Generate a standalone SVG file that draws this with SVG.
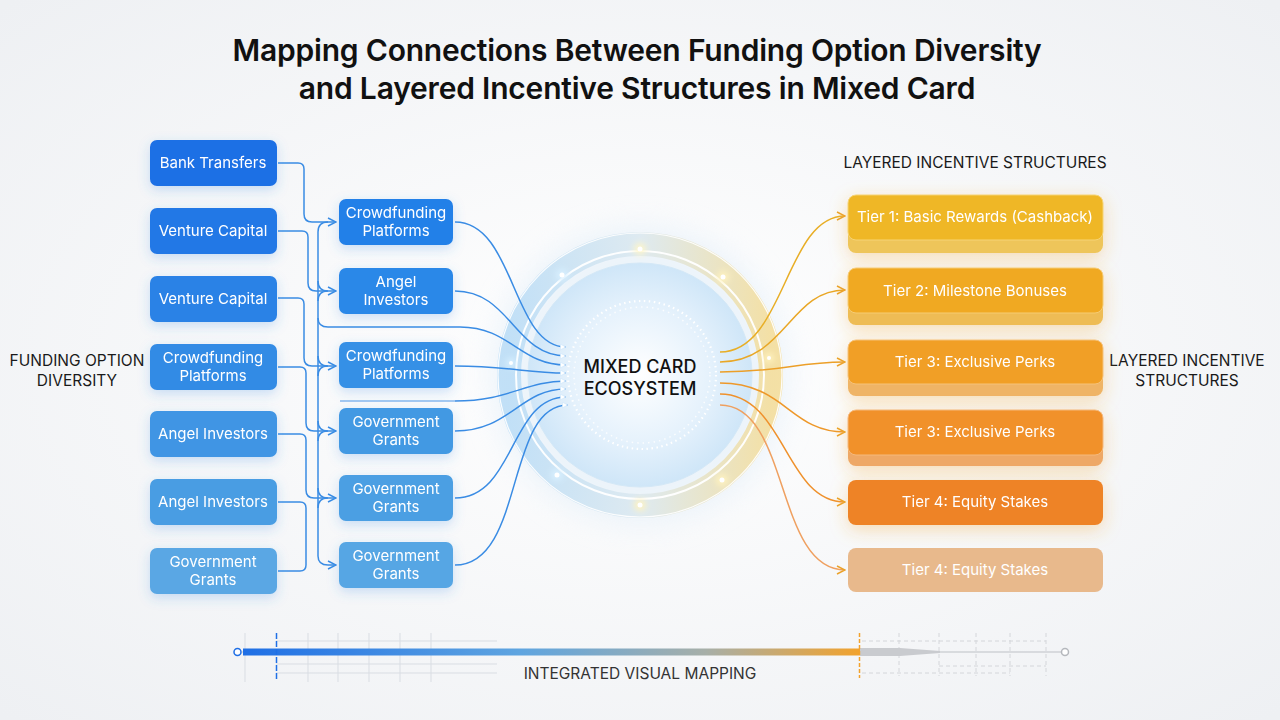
<svg xmlns="http://www.w3.org/2000/svg" width="1280" height="720" viewBox="0 0 1280 720">
<defs>
<style>
.t{font-family:Inter,"Liberation Sans",sans-serif;}
.title{font-family:Inter,"Liberation Sans",sans-serif;font-size:30px;font-weight:600;fill:#111;text-anchor:middle;letter-spacing:-0.2px;}
.lbl{font-family:Inter,"Liberation Sans",sans-serif;font-size:15.5px;fill:#1a1a1a;text-anchor:middle;}
.nt{font-family:Inter,"Liberation Sans",sans-serif;font-size:15px;fill:#fff;text-anchor:middle;}
.bl{fill:none;stroke:#3A8CE4;stroke-width:1.5;}
.or{fill:none;stroke-width:1.5;}
.grid{stroke:#d9dde3;stroke-width:1;fill:none;}
.gd{stroke:#d4d6da;stroke-width:1;fill:none;stroke-dasharray:4 3;}
</style>
<marker id="ab" viewBox="0 0 10 10" refX="9" refY="5" markerWidth="10" markerHeight="10" markerUnits="userSpaceOnUse" orient="auto">
<path d="M1,1 L9,5 L1,9" fill="none" stroke="#3A8CE4" stroke-width="1.5"/>
</marker>
<marker id="ao" viewBox="0 0 10 10" refX="9" refY="5" markerWidth="10" markerHeight="10" markerUnits="userSpaceOnUse" orient="auto">
<path d="M1,1 L9,5 L1,9" fill="none" stroke="#EBA22A" stroke-width="1.5"/>
</marker>
<marker id="aw" viewBox="0 0 10 10" refX="9" refY="5" markerWidth="7" markerHeight="7" markerUnits="userSpaceOnUse" orient="auto">
<path d="M1,1 L9,5 L1,9 Z" fill="#fff" stroke="#cfe6fb" stroke-width="1"/>
</marker>
<filter id="sh" x="-30%" y="-40%" width="160%" height="190%">
<feDropShadow dx="0" dy="4" stdDeviation="6" flood-color="#3A8CE4" flood-opacity="0.25"/>
</filter>
<filter id="sho" x="-30%" y="-60%" width="160%" height="220%">
<feDropShadow dx="0" dy="5" stdDeviation="9" flood-color="#F2A630" flood-opacity="0.35"/>
</filter>
<filter id="blur" x="-50%" y="-50%" width="200%" height="200%"><feGaussianBlur stdDeviation="3"/></filter>
<filter id="bigblur" x="-50%" y="-50%" width="200%" height="200%"><feGaussianBlur stdDeviation="14"/></filter>
<radialGradient id="bg" cx="0.5" cy="0.5" r="0.7">
<stop offset="0" stop-color="#ffffff"/><stop offset="1" stop-color="#eef0f3"/>
</radialGradient>
<radialGradient id="core" cx="0.5" cy="0.5" r="0.5">
<stop offset="0" stop-color="#ffffff"/><stop offset="0.6" stop-color="#e6f2fc"/><stop offset="1" stop-color="#cfe6f8"/>
</radialGradient>
<linearGradient id="ring" x1="0" y1="0" x2="1" y2="0">
<stop offset="0" stop-color="#b9dcf6"/><stop offset="0.5" stop-color="#dbe8ef"/><stop offset="1" stop-color="#f4dc96"/>
</linearGradient>
<linearGradient id="bar" x1="0" y1="0" x2="1" y2="0">
<stop offset="0" stop-color="#1F6FE5"/><stop offset="0.45" stop-color="#5FA5E0"/><stop offset="0.75" stop-color="#A7AFA8"/><stop offset="1" stop-color="#F2A22C"/>
</linearGradient>
</defs>

<rect width="1280" height="720" fill="url(#bg)"/>

<g id="title">
<text class="title" x="637" y="61">Mapping Connections Between Funding Option Diversity</text>
<text class="title" x="637" y="99">and Layered Incentive Structures in Mixed Card</text>
</g>

<g id="side-labels">
<text class="lbl" x="77" y="366">FUNDING OPTION</text>
<text class="lbl" x="77" y="386">DIVERSITY</text>
<text class="lbl" x="975" y="168">LAYERED INCENTIVE STRUCTURES</text>
<text class="lbl" x="1187" y="366">LAYERED INCENTIVE</text>
<text class="lbl" x="1187" y="386">STRUCTURES</text>
</g>

<!-- hub -->
<g id="hub">
<circle cx="640" cy="375" r="150" fill="#e3eff9" opacity="0.6" filter="url(#bigblur)"/>
<circle cx="640" cy="375" r="131" fill="none" stroke="url(#ring)" stroke-width="24" opacity="0.85"/>
<circle cx="640" cy="375" r="142" fill="none" stroke="#ffffff" stroke-width="1.2" opacity="0.9"/>
<circle cx="640" cy="375" r="124" fill="none" stroke="#ffffff" stroke-width="2" opacity="0.95"/>
<circle cx="640" cy="375" r="112" fill="url(#core)"/>
<circle cx="640" cy="375" r="112" fill="none" stroke="#d4e8f7" stroke-width="1"/>
<circle cx="642" cy="375" r="74" fill="none" stroke="#ffffff" stroke-width="2.2" stroke-dasharray="1.5 3.5"/>
<circle cx="642" cy="375" r="68" fill="none" stroke="#ffffff" stroke-width="1.5" stroke-dasharray="1.5 4" opacity="0.8"/>
<g fill="#ffffff">
<circle cx="640" cy="249" r="6" fill="#fff6c8" filter="url(#blur)"/><circle cx="640" cy="249" r="2.5"/>
<circle cx="562" cy="275" r="6" fill="#d8f0ff" filter="url(#blur)"/><circle cx="562" cy="275" r="2.5"/>
<circle cx="723" cy="277" r="6" fill="#fff3c0" filter="url(#blur)"/><circle cx="723" cy="277" r="2.5"/>
<circle cx="557" cy="475" r="6" fill="#d8f0ff" filter="url(#blur)"/><circle cx="557" cy="475" r="2.5"/>
<circle cx="722" cy="480" r="6" fill="#fff3c0" filter="url(#blur)"/><circle cx="722" cy="480" r="2.5"/>
<circle cx="640" cy="505" r="6" fill="#fff3c0" filter="url(#blur)"/><circle cx="640" cy="505" r="2.5"/>
<circle cx="511" cy="363" r="5" fill="#d8f0ff" filter="url(#blur)"/><circle cx="511" cy="363" r="2"/>
<circle cx="769" cy="358" r="5" fill="#fff3c0" filter="url(#blur)"/><circle cx="769" cy="358" r="2"/>
</g>
<text class="t" x="640" y="373" font-size="18" font-weight="500" fill="#111" text-anchor="middle">MIXED CARD</text>
<text class="t" x="640" y="395" font-size="18" font-weight="500" fill="#111" text-anchor="middle">ECOSYSTEM</text>
</g>

<!-- connectors -->
<g id="connectors">
<path class="bl" d="M278,163 H298 Q304,163 304,169 V214 Q304,222 312,222 H336" marker-end="url(#ab)"/>
<path class="bl" d="M278,231 H302 Q308,231 308,237 V283 Q308,291 316,291 H336" marker-end="url(#ab)"/>
<path class="bl" d="M278,298 H298 Q304,298 304,304 V358 Q304,366 312,366 H336" marker-end="url(#ab)"/>
<path class="bl" d="M278,367 H300 Q306,367 306,373 V423 Q306,431 314,431 H336" marker-end="url(#ab)"/>
<path class="bl" d="M278,434 H300 Q306,434 306,440 V490 Q306,498 314,498 H336" marker-end="url(#ab)"/>
<path class="bl" d="M278,502 H300 Q306,502 306,508 V565 Q306,571 300,571 H278"/>
<path class="bl" d="M318,232 V556 Q318,565 328,565 H336" marker-end="url(#ab)"/>
<path class="bl" d="M318,232 Q318,222 328,222"/>
<path class="bl" d="M318,281 Q318,291 328,291 M318,301 Q318,291 328,291"/>
<path class="bl" d="M318,356 Q318,366 328,366 M318,376 Q318,366 328,366"/>
<path class="bl" d="M318,421 Q318,431 328,431 M318,441 Q318,431 328,431"/>
<path class="bl" d="M318,488 Q318,498 328,498 M318,508 Q318,498 328,498"/>
<path class="bl" d="M318,318 Q318,327 328,327 H460"/>
<path class="bl" d="M340,401 H455" opacity="0.6"/>
<path class="bl" d="M455,222 C515,222 512,347 566,347" marker-end="url(#aw)"/>
<path class="bl" d="M455,291 C510,291 515,356 566,356" marker-end="url(#aw)"/>
<path class="bl" d="M460,327 C510,327 520,365 566,365" marker-end="url(#aw)"/>
<path class="bl" d="M455,366 C510,366 525,373 566,373" marker-end="url(#aw)"/>
<path class="bl" d="M455,401 C510,401 525,381 566,381" marker-end="url(#aw)"/>
<path class="bl" d="M455,431 C510,431 520,389 566,389" marker-end="url(#aw)"/>
<path class="bl" d="M455,498 C515,498 510,397 566,397" marker-end="url(#aw)"/>
<path class="bl" d="M455,565 C525,565 505,405 568,405" marker-end="url(#aw)"/>
<path class="or" stroke="#E8AE26" d="M720,352 C785,352 785,216 845,216" marker-end="url(#ao)"/>
<path class="or" stroke="#E9A726" d="M720,362 C785,362 790,290 845,290" marker-end="url(#ao)"/>
<path class="or" stroke="#EC9F28" d="M720,372 C785,372 795,362 845,362" marker-end="url(#ao)"/>
<path class="or" stroke="#EE982A" d="M720,383 C785,383 790,432 845,432" marker-end="url(#ao)"/>
<path class="or" stroke="#EF912C" d="M720,394 C785,394 785,502 845,502" marker-end="url(#ao)"/>
<path class="or" stroke="#EFA060" d="M720,405 C790,405 775,570 845,570" marker-end="url(#ao)"/>
</g>

<g id="n-bank" filter="url(#sh)"><rect x="150" y="140" width="127" height="46" rx="7" fill="#1F6FE5"/><text class="nt" x="213" y="168">Bank Transfers</text></g>
<g id="n-vc1" filter="url(#sh)"><rect x="150" y="208" width="127" height="46" rx="7" fill="#2378E6"/><text class="nt" x="213" y="236">Venture Capital</text></g>
<g id="n-vc2" filter="url(#sh)"><rect x="150" y="276" width="127" height="46" rx="7" fill="#2B82E6"/><text class="nt" x="213" y="304">Venture Capital</text></g>
<g id="n-cf" filter="url(#sh)"><rect x="150" y="344" width="127" height="46" rx="7" fill="#338BE5"/><text class="nt" x="213" y="363">Crowdfunding</text><text class="nt" x="213" y="381">Platforms</text></g>
<g id="n-ai1" filter="url(#sh)"><rect x="150" y="411" width="127" height="46" rx="7" fill="#3F95E4"/><text class="nt" x="213" y="439">Angel Investors</text></g>
<g id="n-ai2" filter="url(#sh)"><rect x="150" y="479" width="127" height="46" rx="7" fill="#4A9DE3"/><text class="nt" x="213" y="507">Angel Investors</text></g>
<g id="n-gg" filter="url(#sh)"><rect x="150" y="548" width="127" height="46" rx="7" fill="#5AA7E4"/><text class="nt" x="213" y="567">Government</text><text class="nt" x="213" y="585">Grants</text></g>

<g id="m-cp1" filter="url(#sh)"><rect x="339" y="199" width="114" height="46" rx="7" fill="#2480E8"/><text class="nt" x="396" y="218">Crowdfunding</text><text class="nt" x="396" y="236">Platforms</text></g>
<g id="m-ai" filter="url(#sh)"><rect x="339" y="268" width="114" height="46" rx="7" fill="#2C88E8"/><text class="nt" x="396" y="287">Angel</text><text class="nt" x="396" y="305">Investors</text></g>
<g id="m-cp2" filter="url(#sh)"><rect x="339" y="342" width="114" height="46" rx="7" fill="#3690E6"/><text class="nt" x="396" y="361">Crowdfunding</text><text class="nt" x="396" y="379">Platforms</text></g>
<g id="m-gg1" filter="url(#sh)"><rect x="339" y="408" width="114" height="46" rx="7" fill="#4399E3"/><text class="nt" x="396" y="427">Government</text><text class="nt" x="396" y="445">Grants</text></g>
<g id="m-gg2" filter="url(#sh)"><rect x="339" y="475" width="114" height="46" rx="7" fill="#4B9FE3"/><text class="nt" x="396" y="494">Government</text><text class="nt" x="396" y="512">Grants</text></g>
<g id="m-gg3" filter="url(#sh)"><rect x="339" y="542" width="114" height="46" rx="7" fill="#56A6E4"/><text class="nt" x="396" y="561">Government</text><text class="nt" x="396" y="579">Grants</text></g>

<g id="tier1" filter="url(#sho)"><rect x="848" y="207" width="255" height="46" rx="8" fill="#EEC55A"/><rect x="848" y="195" width="255" height="45" rx="8" fill="#EFB728" stroke="#F6D475" stroke-width="1"/><text class="nt" x="975" y="222">Tier 1: Basic Rewards (Cashback)</text></g>
<g id="tier2" filter="url(#sho)"><rect x="848" y="280" width="255" height="45" rx="8" fill="#EEBC55"/><rect x="848" y="268" width="255" height="45" rx="8" fill="#F0A924" stroke="#F6CC75" stroke-width="1"/><text class="nt" x="975" y="296">Tier 2: Milestone Bonuses</text></g>
<g id="tier3" filter="url(#sho)"><rect x="848" y="351" width="255" height="45" rx="8" fill="#EFB466"/><rect x="848" y="340" width="255" height="44" rx="8" fill="#F19F26" stroke="#F6C27A" stroke-width="1"/><text class="nt" x="975" y="367">Tier 3: Exclusive Perks</text></g>
<g id="tier3b" filter="url(#sho)"><rect x="848" y="421" width="255" height="45" rx="8" fill="#EEA866"/><rect x="848" y="410" width="255" height="45" rx="8" fill="#F1912A" stroke="#F5B97D" stroke-width="1"/><text class="nt" x="975" y="437">Tier 3: Exclusive Perks</text></g>
<g id="tier4" filter="url(#sho)"><rect x="848" y="480" width="255" height="45" rx="8" fill="#EE8328"/><text class="nt" x="975" y="507">Tier 4: Equity Stakes</text></g>
<g id="tier4b"><rect x="848" y="548" width="255" height="44" rx="8" fill="#E8B98C"/><text class="nt" x="975" y="575">Tier 4: Equity Stakes</text></g>

<g id="mapping-bar">
<g class="grid">
<line x1="245" y1="633" x2="245" y2="682"/>
<line x1="308" y1="633" x2="308" y2="682"/>
<line x1="338" y1="633" x2="338" y2="682"/>
<line x1="369" y1="633" x2="369" y2="682"/>
<line x1="400" y1="633" x2="400" y2="682"/>
<line x1="431" y1="633" x2="431" y2="682"/>
<line x1="276" y1="641" x2="497" y2="641"/>
<line x1="276" y1="664" x2="497" y2="664"/>
<line x1="276" y1="673" x2="497" y2="673"/>
</g>
<g class="gd">
<line x1="899" y1="633" x2="899" y2="676"/>
<line x1="939" y1="633" x2="939" y2="676"/>
<line x1="976" y1="633" x2="976" y2="676"/>
<line x1="1010" y1="633" x2="1010" y2="676"/>
<line x1="1046" y1="633" x2="1046" y2="676"/>
<line x1="862" y1="641" x2="1046" y2="641"/>
<line x1="939" y1="666" x2="1046" y2="666"/>
<line x1="862" y1="673" x2="1010" y2="673"/>
</g>
<line x1="242" y1="652" x2="1061" y2="652" stroke="#cfd2d6" stroke-width="1.5"/>
<path d="M860,648 L900,648 L940,651 L940,653 L900,656 L860,656 Z" fill="#c9cbcf"/>
<rect x="243" y="648.5" width="617" height="7" fill="url(#bar)"/>
<line x1="276.5" y1="633" x2="276.5" y2="680" stroke="#1F6FE5" stroke-width="1.5" stroke-dasharray="6 2"/>
<line x1="859.5" y1="633" x2="859.5" y2="678" stroke="#F2A22C" stroke-width="1.5" stroke-dasharray="4 2"/>
<circle cx="237.5" cy="652" r="3.5" fill="#fff" stroke="#1F6FE5" stroke-width="1.5"/>
<circle cx="1065" cy="652" r="3.5" fill="#fff" stroke="#b5b8bd" stroke-width="1.5"/>
<text class="t" x="640" y="679" font-size="15.5" fill="#333" text-anchor="middle">INTEGRATED VISUAL MAPPING</text>
</g>
</svg>
